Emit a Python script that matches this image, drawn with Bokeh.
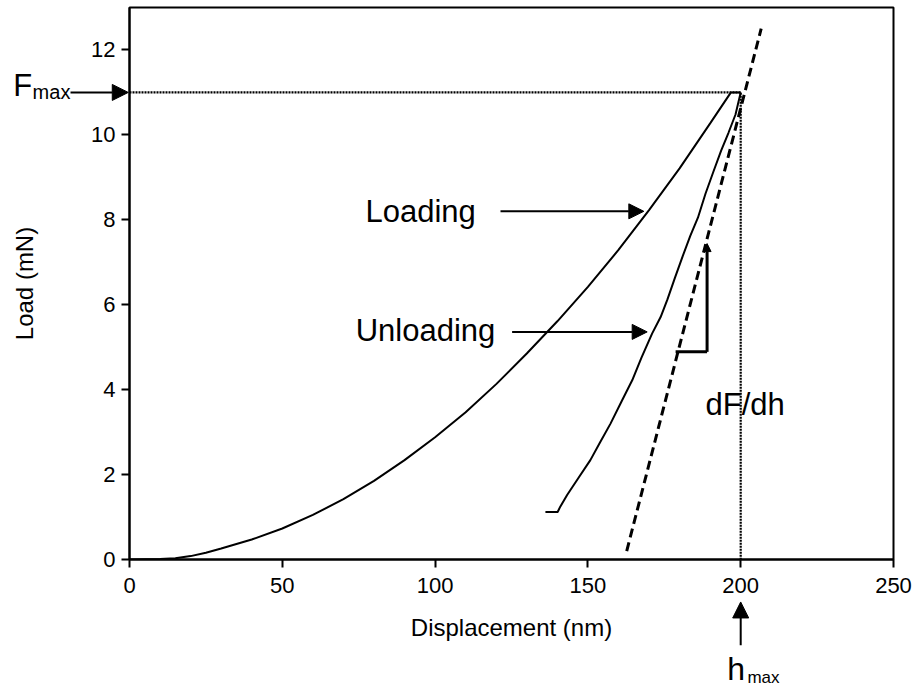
from bokeh.plotting import figure
from bokeh.models import Arrow, NormalHead, Label, Range1d, FixedTicker
from bokeh.embed import file_html
from bokeh.resources import INLINE

# Nanoindentation load-displacement curve
load_h = [0, 10, 15, 20, 25, 30, 40, 50, 60, 70, 80, 90, 100, 110, 120, 130,
          140, 150, 160, 170, 180, 190, 196.8, 200]
load_F = [0, 0.01, 0.03, 0.08, 0.16, 0.26, 0.47, 0.73, 1.05, 1.42, 1.85, 2.34,
          2.88, 3.47, 4.13, 4.85, 5.61, 6.42, 7.29, 8.23, 9.21, 10.27, 11.0, 11.0]

unload_h = [200, 198.3, 196.0, 193.6, 191.0, 188.5, 186.0, 183.5, 181.0, 178.5,
            176.0, 173.8, 171.0, 167.5, 164.5, 161.0, 157.4, 154.0, 150.8, 147.0,
            143.2, 141.0, 140.1, 136.1]
unload_F = [11.0, 10.48, 10.05, 9.63, 9.12, 8.62, 8.05, 7.62, 7.14, 6.64,
            6.12, 5.71, 5.32, 4.75, 4.22, 3.72, 3.20, 2.76, 2.34, 1.93,
            1.52, 1.25, 1.12, 1.12]

# Contact stiffness tangent dF/dh
tangent_h = [162.7, 206.7]
tangent_F = [0.2, 12.5]

F_max = 11.0
h_max = 200.0

x_ticks = [0, 50, 100, 150, 200, 250]
y_ticks = [0, 2, 4, 6, 8, 10, 12]

FONT = "Liberation Sans"

W, H = 919, 689
FRAME_W, FRAME_H = 764, 552
LEFT, RIGHT, TOP, BOTTOM = 129, 26, 7, 130
X0, X1, Y0, Y1 = 0, 250, 0, 13

p = figure(frame_width=FRAME_W, frame_height=FRAME_H,
           x_range=Range1d(X0, X1), y_range=Range1d(Y0, Y1),
           min_border_left=LEFT, min_border_right=RIGHT,
           min_border_top=TOP, min_border_bottom=BOTTOM,
           output_backend="svg", toolbar_location=None)

p.background_fill_color = "white"
p.border_fill_color = "white"
p.outline_line_color = "black"
p.outline_line_width = 2
p.outline_line_alpha = 1.0
p.grid.visible = False

p.xaxis.ticker = FixedTicker(ticks=x_ticks)
p.yaxis.ticker = FixedTicker(ticks=y_ticks)
for ax in (p.xaxis, p.yaxis):
    ax.axis_line_width = 2
    ax.axis_line_color = "black"
    ax.major_tick_line_width = 2
    ax.major_tick_line_color = "black"
    ax.major_tick_out = 8
    ax.major_tick_in = 0
    ax.minor_tick_out = 0
    ax.minor_tick_in = 0
    ax.major_label_text_font = FONT
    ax.major_label_text_font_size = "22px"
    ax.major_label_text_color = "black"
    ax.axis_label_text_font = FONT
    ax.axis_label_text_font_size = "24px"
    ax.axis_label_text_font_style = "normal"
    ax.axis_label_text_color = "black"

p.xaxis.axis_label = "Displacement (nm)"
p.yaxis.axis_label = "Load (mN)"
p.xaxis.major_label_standoff = 10
p.yaxis.major_label_standoff = 6
p.xaxis.axis_label_standoff = 18
p.yaxis.axis_label_standoff = 50

# guide lines at the peak
p.line([0, h_max], [F_max, F_max], line_color="black", line_width=2.2, line_dash="2 1")
p.line([h_max, h_max], [-0.5, F_max], line_color="black", line_width=2.2, line_dash="2 1")

# curves
p.line(load_h, load_F, line_color="black", line_width=2)
p.line(unload_h, unload_F, line_color="black", line_width=2)
p.line(tangent_h, tangent_F, line_color="black", line_width=3, line_dash="9 5")

# slope triangle
p.line([178.7, 189.0], [4.89, 4.89], line_color="black", line_width=3)
p.add_layout(Arrow(end=NormalHead(size=8, fill_color="black", line_color="black"),
                   x_start=189.0, y_start=4.89, x_end=189.0, y_end=7.44,
                   line_color="black", line_width=3))

# Transparent overlay with the same data mapping, its frame spanning the whole
# canvas, so the markers lying outside the axes frame can be drawn too.
px_x = FRAME_W / (X1 - X0)
px_y = FRAME_H / (Y1 - Y0)
q = figure(width=W, height=H,
           x_range=Range1d(X0 - LEFT / px_x, X1 + RIGHT / px_x),
           y_range=Range1d(Y0 - BOTTOM / px_y, Y1 + TOP / px_y),
           min_border_left=0, min_border_right=0, min_border_top=0, min_border_bottom=0,
           x_axis_location=None, y_axis_location=None,
           output_backend="svg", toolbar_location=None)
q.background_fill_alpha = 0
q.border_fill_alpha = 0
q.outline_line_color = None
q.grid.visible = False
q.styles = {"position": "absolute", "top": "0px", "left": "0px"}


def arrow(fig, x0, y0, x1, y1, size=15):
    fig.add_layout(Arrow(end=NormalHead(size=size, fill_color="black", line_color="black", line_width=1),
                         x_start=x0, y_start=y0, x_end=x1, y_end=y1,
                         line_color="black", line_width=2))


def label(fig, x, y, text, size):
    fig.add_layout(Label(x=x, y=y, text=text, text_font=FONT, text_font_size=size,
                         text_color="black", text_align="left", text_baseline="alphabetic"))


label(p, 77.2, 8.19, "Loading", "31px")
arrow(p, 121.4, 8.2, 168.3, 8.2)
label(p, 74.0, 5.40, "Unloading", "31px")
arrow(p, 125.2, 5.36, 169.4, 5.36)
label(p, 188.5, 3.64, "dF/dh", "31px")

# F_max marker
label(q, -38.0, 11.17, "F", "31px")
label(q, -31.7, 11.0, "max", "20px")
arrow(q, -19.3, F_max, -0.4, F_max, size=16)

# h_max marker
arrow(q, h_max, -2.02, h_max, -1.0, size=16)
label(q, 195.6, -2.59, "h", "32px")
label(q, 202.2, -2.78, "max", "17px")

open("out.html", "w").write(file_html([p, q], INLINE))
